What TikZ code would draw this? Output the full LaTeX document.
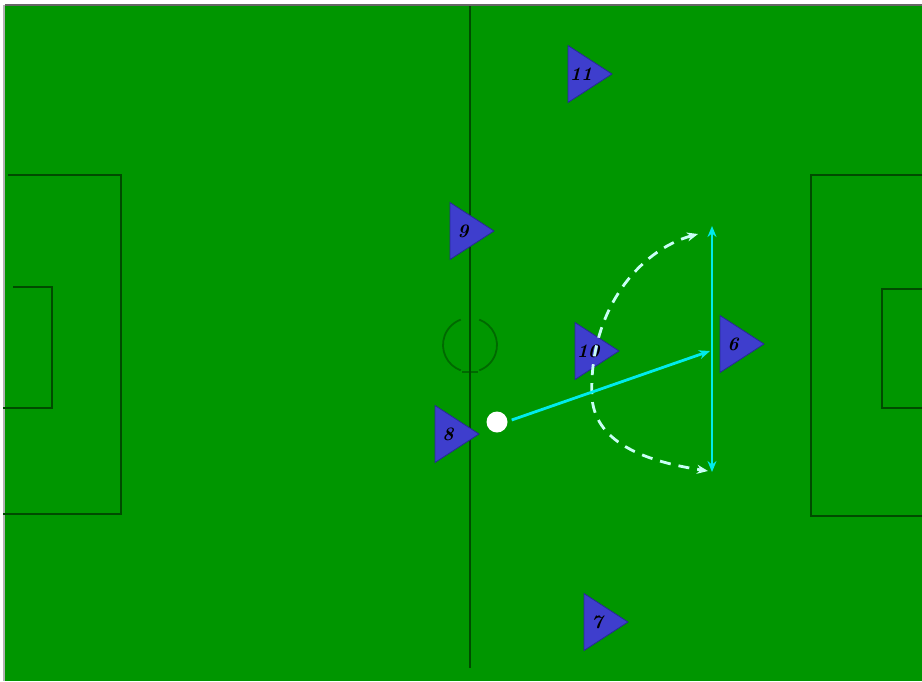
\documentclass[tikz,border=0pt]{standalone}
\usetikzlibrary{arrows.meta}
\definecolor{pitch}{RGB}{0,150,0}
\definecolor{pline}{RGB}{0,75,0}
\definecolor{pblue}{RGB}{62,62,205}
\definecolor{pedge}{RGB}{40,40,150}
\definecolor{runcyan}{RGB}{0,235,235}
\definecolor{passcyan}{RGB}{200,255,245}
\tikzset{
  fieldline/.style={draw=pline,line width=1.8pt},
  playertri/.style={fill=pblue,draw=pedge,line width=0.8pt},
  numlabel/.style={font=\bfseries\itshape\fontsize{19}{19}\selectfont,text=black,inner sep=0pt},
  runarrow/.style={draw=runcyan,line width=2.8pt,-{Stealth[length=11pt,width=9pt]}},
  runboth/.style={draw=runcyan,line width=2.8pt,{Stealth[length=11pt,width=9pt]}-{Stealth[length=11pt,width=9pt]}},
  passarrow/.style={draw=passcyan,line width=2.8pt,dash pattern=on 11pt off 8pt,{Stealth[length=11pt,width=9pt]}-{Stealth[length=11pt,width=9pt]}}
}
\newcommand{\drawplayer}[4]{% name, left x, center y, label
  \fill[playertri] (#2,#3-28.5) -- (#2+44,#3) -- (#2,#3+28.5) -- cycle;
  \node[numlabel] (#1) at (#2+13,#3) {#4};
}
\begin{document}
\begin{tikzpicture}[x=1pt,y=-1pt]
\useasboundingbox (0,0) rectangle (922,681);
\fill[white] (0,0) rectangle (922,681);
\fill[pitch] (5,5) rectangle (922,681);
\draw[black!60,line width=2pt] (5,5) -- (922,5);
\draw[black!30,line width=1.5pt] (4,5) -- (4,681);
% midline and centre circle
\draw[fieldline] (470,6) -- (470,668);
\draw[fieldline,draw opacity=0.6] (470,345) ++(110:27) arc (110:250:27);
\draw[fieldline,draw opacity=0.6] (470,345) ++(-70:27) arc (-70:70:27);
\draw[fieldline,draw opacity=0.6] (462,372) -- (478,372);
% left boxes
\draw[fieldline] (8,175) -- (121,175) -- (121,514) -- (3,514);
\draw[fieldline] (13,287) -- (52,287) -- (52,408) -- (3,408);
% right boxes
\draw[fieldline] (922,175) -- (811,175) -- (811,516) -- (922,516);
\draw[fieldline] (922,289) -- (882,289) -- (882,408) -- (922,408);
% players
\drawplayer{p11}{568}{74}{11}
\drawplayer{p9}{450}{231}{9}
\drawplayer{p8}{435}{434}{8}
\drawplayer{p10}{575}{351}{10}
\drawplayer{p6}{720}{344}{6}
\drawplayer{p7}{584}{622}{7}
% ball
\node[circle,fill=white,minimum size=21pt,inner sep=0pt] (ball) at (497,422) {};
% movement
\coordinate (passend) at (710,351);
\coordinate (runtop) at (712,226);
\coordinate (runbot) at (712,472);
\coordinate (dtop) at (698,234);
\coordinate (dmid) at (592,398);
\coordinate (dbot) at (708,471);
\draw[passarrow] (dtop) .. controls (640,250) and (588,310) .. (dmid) .. controls (596,445) and (650,462) .. (dbot);
\draw[runboth] (runtop) -- (runbot);
\draw[runarrow] (ball.east) ++(4,-2) -- (passend);
\end{tikzpicture}
\end{document}
